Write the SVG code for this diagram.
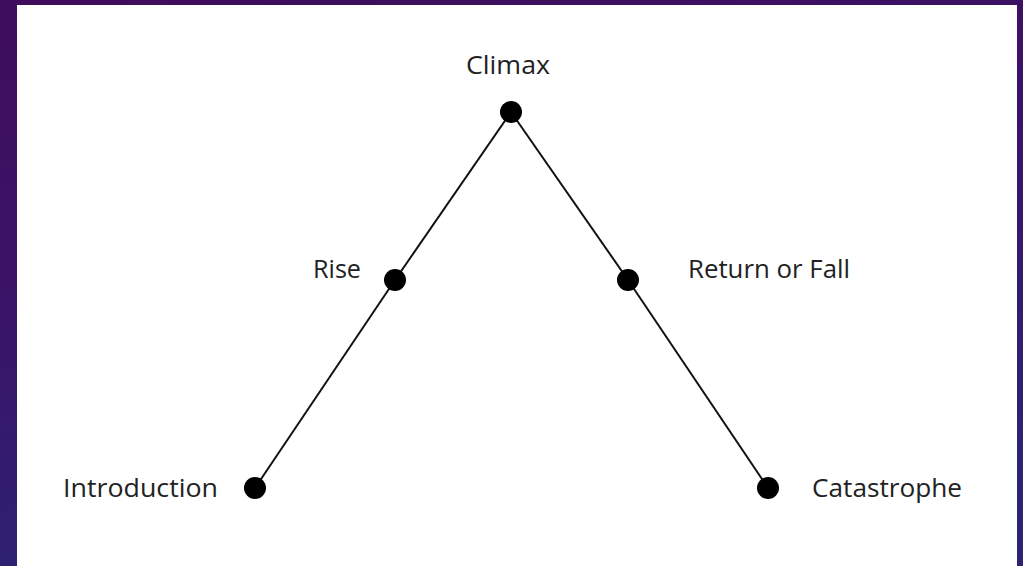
<svg xmlns="http://www.w3.org/2000/svg" width="1023" height="566" viewBox="0 0 1023 566">
<defs>
<linearGradient id="bg" x1="0" y1="0" x2="0.3" y2="1">
<stop offset="0" stop-color="#3f0d5c"/>
<stop offset="0.5" stop-color="#3a1468"/>
<stop offset="1" stop-color="#2c2374"/>
</linearGradient>
<style>
.lbl{font-family:"Open Sans","Liberation Sans",sans-serif;font-size:25.5px;fill:#222;}
.dot{fill:#000;}
.edge{stroke:#111;stroke-width:2;fill:none;}
</style>
</defs>
<rect x="0" y="0" width="1023" height="566" fill="url(#bg)"/>
<rect x="17" y="5" width="1000" height="561" fill="#fff"/>
<g id="connectors">
<line class="edge" x1="511" y1="112" x2="395" y2="280"/>
<line class="edge" x1="395" y1="280" x2="255" y2="488"/>
<line class="edge" x1="511" y1="112" x2="628" y2="280"/>
<line class="edge" x1="628" y1="280" x2="768" y2="488"/>
</g>
<g id="climax"><circle class="dot" cx="511" cy="112" r="11"/><text class="lbl" x="508" y="74" text-anchor="middle" textLength="84" lengthAdjust="spacingAndGlyphs">Climax</text></g>
<g id="rise"><circle class="dot" cx="395" cy="280" r="11"/><text class="lbl" x="313" y="278" textLength="48" lengthAdjust="spacingAndGlyphs">Rise</text></g>
<g id="return"><circle class="dot" cx="628" cy="280" r="11"/><text class="lbl" x="688" y="278" textLength="162" lengthAdjust="spacingAndGlyphs">Return or Fall</text></g>
<g id="introduction"><circle class="dot" cx="255" cy="488" r="11"/><text class="lbl" x="63" y="497" textLength="155" lengthAdjust="spacingAndGlyphs">Introduction</text></g>
<g id="catastrophe"><circle class="dot" cx="768" cy="488" r="11"/><text class="lbl" x="812" y="497" textLength="150" lengthAdjust="spacingAndGlyphs">Catastrophe</text></g>
</svg>
